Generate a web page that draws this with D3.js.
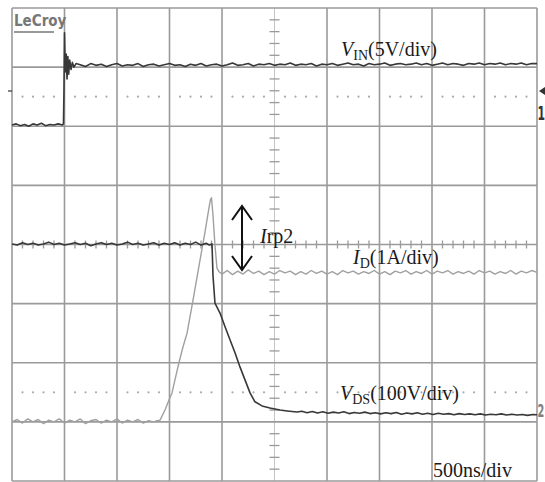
<!DOCTYPE html>
<html>
<head>
<meta charset="utf-8">
<script src="https://cdn.jsdelivr.net/npm/d3@7"></script>
<style>
  html, body { margin: 0; padding: 0; background: #fff; }
  svg { display: block; }
</style>
</head>
<body>
<div id="chart"></div>
<script>
// scope settings
const timePerDiv = 500; // ns
const hDivs = 10;
const vDivs = 8;

// channel scales (units per division) and ground offsets (divisions from centre)
const vinScale = 5;    // V/div
const vinOffset = 2;
const idScale = 1;     // A/div
const idOffset = -3;
const vdsScale = 100;  // V/div
const vdsOffset = -2.85;

// reference level markers (divisions from centre)
const dottedLevels = [2.5, -2.5];

// V_IN trace [ns, V]
const vinData = [
  [0,0.1],[40,0.2],[80,0.05],[120,0.15],[160,0.0],[200,0.2],[240,0.1],[280,0.25],[320,0.05],
  [360,0.15],[400,0.1],[440,0.2],[480,0.1],[490,0.2],[495,3.0],[500,7.9],[508,4.6],[516,6.1],
  [524,4.0],[532,5.9],[540,4.4],[550,5.6],[562,4.8],[575,5.4],[590,5.0],[610,5.3],
  [650,5.2],[700,5.05],[750,5.3],[800,5.15],[850,5.25],[900,5.05],[950,5.2],[1000,5.3],
  [1050,5.1],[1100,5.2],[1150,5.15],[1200,5.3],[1250,5.05],[1300,5.2],[1350,5.25],[1400,5.1],
  [1450,5.2],[1500,5.3],[1550,5.15],[1600,5.2],[1650,5.05],[1700,5.25],[1750,5.15],[1800,5.3],
  [1850,5.1],[1900,5.2],[1950,5.25],[2000,5.1],[2050,5.2],[2100,5.35],[2150,5.15],[2200,5.2],
  [2250,5.3],[2300,5.1],[2350,5.25],[2400,5.2],[2450,5.3],[2500,5.15],[2550,5.25],[2600,5.2],
  [2650,5.35],[2700,5.15],[2750,5.25],[2800,5.2],[2850,5.3],[2900,5.1],[2950,5.25],[3000,5.2],
  [3050,5.3],[3100,5.15],[3150,5.25],[3200,5.35],[3250,5.2],[3300,5.25],[3350,5.1],[3400,5.3],
  [3450,5.2],[3500,5.25],[3550,5.35],[3600,5.15],[3650,5.25],[3700,5.3],[3750,5.2],[3800,5.25],
  [3850,5.35],[3900,5.2],[3950,5.3],[4000,5.15],[4050,5.25],[4100,5.35],[4150,5.2],[4200,5.3],
  [4250,5.25],[4300,5.15],[4350,5.3],[4400,5.25],[4450,5.35],[4500,5.2],[4550,5.3],[4600,5.25],
  [4650,5.35],[4700,5.2],[4750,5.3],[4800,5.25],[4850,5.35],[4900,5.2],[4950,5.3],[5000,5.3]
];

// V_DS trace [ns, V]
const vdsData = [
  [0,286],[50,284],[100,288],[150,285],[200,287],[250,284],[300,286],[350,289],[400,285],
  [450,287],[500,284],[550,286],[600,288],[650,285],[700,287],[750,283],[800,286],[850,288],
  [900,285],[950,287],[1000,284],[1050,286],[1100,289],[1150,285],[1200,287],[1250,284],
  [1300,286],[1350,288],[1400,284],[1450,287],[1500,285],[1550,288],[1600,284],[1650,287],
  [1700,285],[1750,289],[1800,284],[1850,287],[1880,284],[1905,286],
  [1914,233],[1933,186],[1981,169],[2029,146],[2076,124],[2124,102],[2171,78],[2219,56],
  [2267,34],[2314,19],[2381,12],[2457,8.5],[2552,5],[2620,3.5],[2714,1.7],
  [2760,3],[2810,0.5],[2860,2.5],[2910,0],[2960,2],[3010,-0.5],[3060,1.5],[3110,0],[3160,2],
  [3210,-1],[3260,1],[3310,-0.5],[3360,1.5],[3410,-1],[3460,0.5],[3510,-1.5],[3560,0.5],
  [3610,-1],[3660,1],[3710,-2],[3760,0],[3810,-1.5],[3860,0.5],[3910,-2],[3960,-0.5],
  [4010,-2.5],[4060,-0.5],[4110,-2],[4160,-1],[4210,-3],[4260,-1],[4310,-2.5],[4360,-1.5],
  [4410,-3],[4460,-1.5],[4510,-3.5],[4560,-2],[4610,-3],[4660,-1.5],[4710,-3.5],[4760,-2],
  [4810,-3.5],[4860,-2.5],[4910,-4],[4960,-2.5],[5000,-3]
];

// I_D trace [ns, A]
const idData = [
  [0,0],[50,0.04],[100,-0.02],[150,0.05],[200,0.0],[250,0.04],[300,-0.03],[350,0.03],
  [400,0.0],[450,0.05],[500,-0.02],[550,0.03],[600,0.0],[650,0.05],[700,-0.03],[750,0.02],
  [800,0.04],[850,-0.02],[900,0.03],[950,0.0],[1000,0.05],[1050,-0.02],[1100,0.03],[1150,0.0],
  [1200,0.04],[1250,-0.02],[1300,0.02],[1350,0.0],[1381,0.02],
  [1410,0.03],[1457,0.2],[1495,0.37],[1524,0.49],[1552,0.71],[1590,1.0],[1629,1.27],[1667,1.5],
  [1724,2.06],[1781,2.64],[1838,3.21],[1876,3.62],[1890,3.76],[1900,3.79],
  [1914,3.5],[1933,2.99],[1952,2.6],[1971,2.54],
  [2000,2.5],[2050,2.56],[2100,2.49],[2150,2.55],[2200,2.5],[2250,2.57],[2300,2.51],[2350,2.55],
  [2400,2.49],[2450,2.54],[2500,2.5],[2550,2.56],[2600,2.52],[2650,2.55],[2700,2.49],[2750,2.54],
  [2800,2.5],[2850,2.56],[2900,2.51],[2950,2.55],[3000,2.5],[3050,2.54],[3100,2.49],[3150,2.56],
  [3200,2.52],[3250,2.55],[3300,2.5],[3350,2.54],[3400,2.51],[3450,2.56],[3500,2.5],[3550,2.54],
  [3600,2.49],[3650,2.55],[3700,2.52],[3750,2.56],[3800,2.5],[3850,2.54],[3900,2.51],[3950,2.56],
  [4000,2.5],[4050,2.55],[4100,2.52],[4150,2.56],[4200,2.5],[4250,2.54],[4300,2.51],[4350,2.55],
  [4400,2.5],[4450,2.56],[4500,2.52],[4550,2.55],[4600,2.5],[4650,2.54],[4700,2.51],[4750,2.56],
  [4800,2.5],[4850,2.55],[4900,2.52],[4950,2.56],[5000,2.53]
];

const width = 545;
const height = 482;
const plot = { left: 12, right: 537, top: 8, bottom: 481 };

const x = d3.scaleLinear()
  .domain([0, timePerDiv * hDivs])
  .range([plot.left, plot.right]);

const y = d3.scaleLinear()
  .domain([-vDivs / 2, vDivs / 2])
  .range([plot.bottom, plot.top]);

const gridColor = "#9a9a9a";
const darkTrace = "#383838";
const lightTrace = "#a0a0a0";

const svg = d3.select("#chart")
  .append("svg")
  .attr("width", width)
  .attr("height", height);

svg.append("rect")
  .attr("width", width)
  .attr("height", height)
  .attr("fill", "#fff");

const grid = svg.append("g");

// dotted reference levels
dottedLevels.forEach((lvl) => {
  const dots = d3.range(0, hDivs * 5 + 1).filter((i) => i % 5 !== 0);
  grid.selectAll(null)
    .data(dots)
    .enter()
    .append("circle")
    .attr("cx", (i) => x(i * timePerDiv / 5))
    .attr("cy", y(lvl))
    .attr("r", 1.1)
    .attr("fill", "#aaa");
});

// vertical grid lines
grid.selectAll(".vline")
  .data(d3.range(0, hDivs + 1))
  .enter()
  .append("line")
  .attr("x1", (i) => x(i * timePerDiv))
  .attr("x2", (i) => x(i * timePerDiv))
  .attr("y1", plot.top)
  .attr("y2", plot.bottom)
  .attr("stroke", (i) => (i === hDivs / 2 ? "#c4c4c4" : gridColor))
  .attr("stroke-width", (i) => (i === hDivs / 2 ? 1 : 1.6));

// horizontal grid lines
grid.selectAll(".hline")
  .data(d3.range(-vDivs / 2, vDivs / 2 + 1))
  .enter()
  .append("line")
  .attr("x1", plot.left)
  .attr("x2", plot.right)
  .attr("y1", (d) => y(d))
  .attr("y2", (d) => y(d))
  .attr("stroke", gridColor)
  .attr("stroke-width", 1.6);

// minor ticks on the centre lines
const tcx = x(timePerDiv * hDivs / 2);
grid.selectAll(".vtick")
  .data(d3.range(-vDivs * 5 / 2, vDivs * 5 / 2 + 1).filter((i) => i % 5 !== 0))
  .enter()
  .append("line")
  .attr("x1", tcx - 5)
  .attr("x2", tcx + 5)
  .attr("y1", (i) => y(i / 5))
  .attr("y2", (i) => y(i / 5))
  .attr("stroke", gridColor)
  .attr("stroke-width", 1.3);

grid.selectAll(".htick")
  .data(d3.range(0, hDivs * 5 + 1).filter((i) => i % 5 !== 0))
  .enter()
  .append("line")
  .attr("x1", (i) => x(i * timePerDiv / 5))
  .attr("x2", (i) => x(i * timePerDiv / 5))
  .attr("y1", y(0) - 4)
  .attr("y2", y(0) + 4)
  .attr("stroke", gridColor)
  .attr("stroke-width", 1.3);

// traces
const traceLine = (scale, offset) => d3.line()
  .x((d) => x(d[0]))
  .y((d) => y(offset + d[1] / scale));

const traces = svg.append("g").attr("fill", "none").attr("stroke-linejoin", "round");

traces.append("path")
  .datum(idData)
  .attr("d", traceLine(idScale, idOffset))
  .attr("stroke", lightTrace)
  .attr("stroke-width", 1.4);

traces.append("path")
  .datum(vdsData)
  .attr("d", traceLine(vdsScale, vdsOffset))
  .attr("stroke", darkTrace)
  .attr("stroke-width", 1.6);

traces.append("path")
  .datum(vinData)
  .attr("d", traceLine(vinScale, vinOffset))
  .attr("stroke", darkTrace)
  .attr("stroke-width", 1.6);

// LeCroy logo
svg.append("text")
  .attr("x", 14)
  .attr("y", 26)
  .attr("font-family", "DejaVu Sans Condensed, DejaVu Sans")
  .attr("font-weight", "bold")
  .attr("font-size", 15)
  .attr("fill", "#777")
  .text("LeCroy");
svg.append("line")
  .attr("x1", 14).attr("x2", 54)
  .attr("y1", 32).attr("y2", 32)
  .attr("stroke", "#777")
  .attr("stroke-width", 1.6);

// channel markers (narrow glyphs squeezed into the right margin)
svg.append("path")
  .attr("d", "M539,91 L545,87 L545,95 Z")
  .attr("fill", "#333");
svg.append("text")
  .attr("transform", "translate(537.5,120) scale(0.6,1)")
  .attr("font-family", "DejaVu Sans Condensed, DejaVu Sans")
  .attr("font-weight", "bold")
  .attr("font-size", 20)
  .attr("fill", "#333")
  .text("1");
svg.append("text")
  .attr("transform", "translate(537.5,417) scale(0.6,1)")
  .attr("font-family", "DejaVu Sans Condensed, DejaVu Sans")
  .attr("font-weight", "bold")
  .attr("font-size", 18)
  .attr("fill", "#808080")
  .text("2");
svg.append("line")
  .attr("x1", 8).attr("x2", 12)
  .attr("y1", 91).attr("y2", 91)
  .attr("stroke", "#333").attr("stroke-width", 1.2);

// annotations
const serif = "Liberation Serif, DejaVu Serif, serif";

function label(xPos, yPos, main, sub, rest) {
  const t = svg.append("text")
    .attr("x", xPos)
    .attr("y", yPos)
    .attr("font-family", serif)
    .attr("font-size", 20)
    .attr("fill", "#1a1a1a");
  t.append("tspan").attr("font-style", "italic").text(main);
  if (sub) {
    t.append("tspan").attr("font-size", 14).attr("dy", 4).text(sub);
    t.append("tspan").attr("dy", -4).text(rest);
  } else {
    t.append("tspan").text(rest);
  }
}

label(341, 56, "V", "IN", "(5V/div)");
label(353, 264, "I", "D", "(1A/div)");
label(340, 400, "V", "DS", "(100V/div)");
label(260, 243, "I", null, "rp2");

svg.append("text")
  .attr("x", 433)
  .attr("y", 477)
  .attr("font-family", serif)
  .attr("font-size", 20)
  .attr("fill", "#1a1a1a")
  .text("500ns/div");

// Irp2 double arrow
const arrow = svg.append("g")
  .attr("stroke", "#111")
  .attr("stroke-width", 2)
  .attr("fill", "none");
arrow.append("line").attr("x1", 242).attr("x2", 242).attr("y1", 206).attr("y2", 270);
arrow.append("path").attr("d", "M232,220 L242,206 L252,220");
arrow.append("path").attr("d", "M232,256 L242,270 L252,256");
</script>
</body>
</html>
